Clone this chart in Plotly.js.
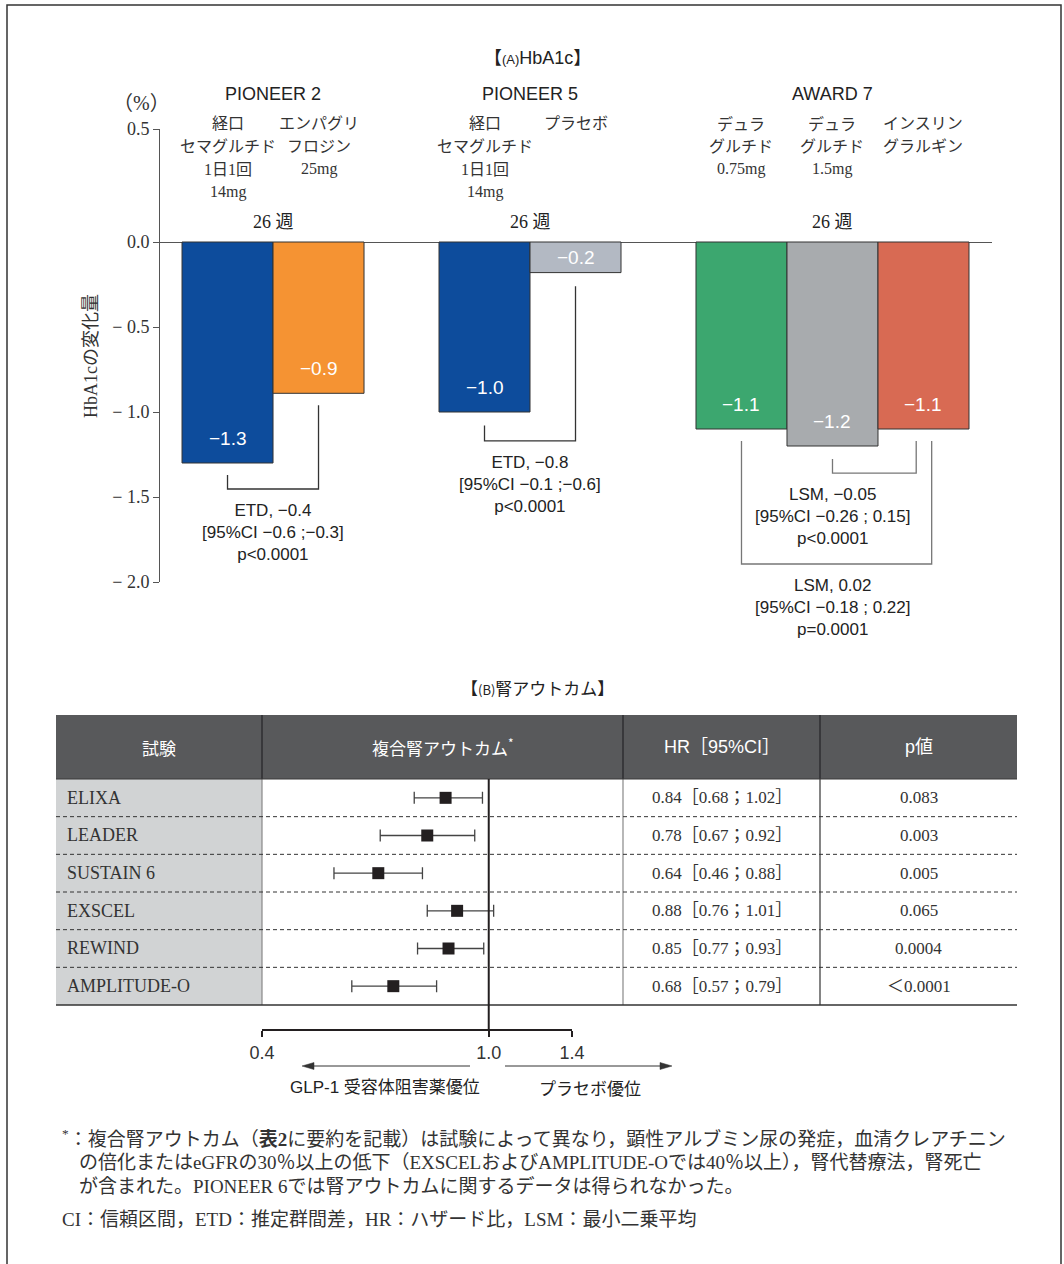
<!DOCTYPE html>
<html><head><meta charset="utf-8">
<script src="https://cdn.plot.ly/plotly-3.0.1.min.js"></script>
<style>html,body{margin:0;padding:0;background:#fff}</style>
</head><body><div id="chart" style="width:1064px;height:1264px"></div>
<script>
// ---------------- data ----------------
const trials = ["PIONEER 2", "PIONEER 5", "AWARD 7"];
const trialWeeks = ["26 週", "26 週", "26 週"];
const armTrial = [0, 0, 1, 1, 2, 2, 2];
const armLabels = [
  ["経口", "セマグルチド", "1日1回", "14mg"],
  ["エンパグリ", "フロジン", "25mg"],
  ["経口", "セマグルチド", "1日1回", "14mg"],
  ["プラセボ"],
  ["デュラ", "グルチド", "0.75mg"],
  ["デュラ", "グルチド", "1.5mg"],
  ["インスリン", "グラルギン"]
];
const hba1cChange = [-1.3, -0.89, -1.0, -0.18, -1.1, -1.2, -1.1];
const hba1cLabels = ["−1.3", "−0.9", "−1.0", "−0.2", "−1.1", "−1.2", "−1.1"];
const armColors = ["#0d4c9c", "#f59333", "#0d4c9c", "#b3b9c3", "#3ca76f", "#a8abae", "#d86a53"];
const yTickVals = [-2, -1.5, -1, -0.5, 0];
const yTickText = ["− 2.0", "− 1.5", "− 1.0", "− 0.5", "0.0"];
const comparisonStats = [
  ["ETD, −0.4", "[95%CI −0.6 ;−0.3]", "p&lt;0.0001"],
  ["ETD, −0.8", "[95%CI −0.1 ;−0.6]", "p&lt;0.0001"],
  ["LSM, −0.05", "[95%CI −0.26 ; 0.15]", "p&lt;0.0001"],
  ["LSM, 0.02", "[95%CI −0.18 ; 0.22]", "p=0.0001"]
];

const studies = ["ELIXA", "LEADER", "SUSTAIN 6", "EXSCEL", "REWIND", "AMPLITUDE-O"];
const hrValues = [0.84, 0.78, 0.64, 0.88, 0.85, 0.68];
const ciLowText = ["0.68", "0.67", "0.46", "0.76", "0.77", "0.57"];
const ciHighText = ["1.02", "0.92", "0.88", "1.01", "0.93", "0.79"];
// whisker ends as drawn in the figure
const whiskerLow = [0.74, 0.645, 0.535, 0.78, 0.75, 0.575];
const whiskerHigh = [0.975, 0.945, 0.765, 1.02, 0.98, 0.81];
const pValues = ["0.083", "0.003", "0.005", "0.065", "0.0004", "＜0.0001"];
const hrTicks = [0.4, 1.0, 1.4];
const hrTickText = ["0.4", "1.0", "1.4"];

const footnoteLines = [
  "<sup>*</sup>：複合腎アウトカム（<b>表2</b>に要約を記載）は試験によって異なり，顕性アルブミン尿の発症，血清クレアチニン",
  "の倍化またはeGFRの30％以上の低下（EXSCELおよびAMPLITUDE-Oでは40％以上），腎代替療法，腎死亡",
  "が含まれた。PIONEER 6では腎アウトカムに関するデータは得られなかった。",
  "CI：信頼区間，ETD：推定群間差，HR：ハザード比，LSM：最小二乗平均"
];

// ---------------- layout helpers ----------------
const W = 1064, H = 1264;
const px = v => v / W;
const py = v => 1 - v / H;
const SANS = "'Liberation Sans', Arial, 'Noto Sans CJK JP', sans-serif";
const SERIF = "'Liberation Serif', 'Times New Roman', 'Noto Sans CJK JP', serif";
const JSANS = "'Noto Sans CJK JP', 'Liberation Sans', sans-serif";
const TXT = "#333";

// top chart geometry
const plotTopPx = 129, plotBotPx = 582, zeroPx = 242, plotLeftPx = 160, plotRightPx = 992;
const pxPerUnitY = (plotBotPx - zeroPx) / 2.0;
const yTop = (zeroPx - plotTopPx) / pxPerUnitY;
const barUnitPx = 91;
const xMax = (plotRightPx - plotLeftPx) / barUnitPx;
const groupStart = 0.242, groupGap = 0.824;
const barX = [];
{
  let x = groupStart + 0.5;
  for (let i = 0; i < armTrial.length; i++) {
    if (i > 0 && armTrial[i] !== armTrial[i - 1]) x += groupGap;
    barX.push(x); x += 1;
  }
}
const groupCenter = trials.map((t, g) => {
  const xs = barX.filter((_, i) => armTrial[i] === g);
  return (xs[0] + xs[xs.length - 1]) / 2;
});

const traces = [];
traces.push({
  type: "bar", x: barX, y: hba1cChange, width: 1,
  marker: { color: armColors, line: { color: "#333", width: 1 } },
  hoverinfo: "skip", xaxis: "x", yaxis: "y"
});

traces.push({
  type: "scatter", mode: "markers", x: hrValues, y: studies.map((_, i) => i),
  xaxis: "x2", yaxis: "y2",
  marker: { symbol: "square", size: 12, color: "#231f20" },
  error_x: {
    type: "data", symmetric: false,
    array: whiskerHigh.map((h, i) => h - hrValues[i]),
    arrayminus: whiskerLow.map((l, i) => hrValues[i] - l),
    width: 6, thickness: 1.3, color: "#444"
  },
  hoverinfo: "skip", cliponaxis: false
});

const annotations = [];
const shapes = [];
function ann(o) {
  annotations.push(Object.assign({ showarrow: false, xref: "paper", yref: "paper", xanchor: "center", yanchor: "middle" }, o));
}

// titles
ann({ x: px(537), y: py(58), text: "【<span style='font-size:13px'>(A)</span>HbA1c】", font: { family: SANS, size: 18, color: "#222" } });
ann({ x: px(537), y: py(687), text: "【<span style='font-size:13px'>(B)</span>腎アウトカム】", font: { family: JSANS, size: 17, color: "#222" } });
ann({ x: px(141), y: py(103), text: "（%）", font: { family: SERIF, size: 20, color: TXT } });
ann({ x: px(91), y: py(356), text: "HbA1cの変化量", textangle: -90, font: { family: SERIF, size: 18, color: TXT } });

// trial names and weeks
trials.forEach((t, g) => {
  ann({ xref: "x", x: groupCenter[g], y: py(94), text: t, font: { family: SANS, size: 18, color: "#222" } });
  ann({ xref: "x", x: groupCenter[g], y: py(222), text: trialWeeks[g], font: { family: SERIF, size: 18, color: "#222" } });
});
// arm labels
armLabels.forEach((lines, i) => {
  lines.forEach((ln, k) => {
    ann({ xref: "x", x: barX[i], y: py(124 + k * 22.7), text: ln, font: { family: SERIF, size: 16, color: TXT } });
  });
});
// value labels inside bars
hba1cChange.forEach((v, i) => {
  const hpx = Math.abs(v) * pxPerUnitY;
  ann({ xref: "x", yref: "y", x: barX[i], y: v, yshift: Math.min(25, hpx / 2), text: hba1cLabels[i],
        font: { family: SANS, size: 19, color: "#fff" } });
});

// comparison brackets
const brackets = [
  { a: 0, b: 1, da: 0, db: 0, ga: 0.07, gb: 0.07, depth: 0.153, color: "#333", stat: 0, tx: "mid" },
  { a: 2, b: 3, da: 0, db: 0, ga: 0.08, gb: 0.08, depth: 0.17, color: "#333", stat: 1, tx: "mid" },
  { a: 5, b: 6, da: 0, db: -0.08, ga: 0.076, gb: 0.07, depth: 0.16, color: "#777", stat: 2, tx: 5 },
  { a: 4, b: 6, da: 0, db: 0.09, ga: 0.07, gb: 0.07, depth: 0.794, color: "#777", stat: 3, tx: 5 }
];
brackets.forEach(br => {
  const xa = barX[br.a] + br.da, xb = barX[br.b] + br.db;
  const ta = hba1cChange[br.a] - br.ga, tb = hba1cChange[br.b] - br.gb;
  const bottom = Math.min(hba1cChange[br.a], hba1cChange[br.b]) - br.depth;
  shapes.push({ type: "path", xref: "x", yref: "y",
    path: `M ${xa},${ta} L ${xa},${bottom} L ${xb},${bottom} L ${xb},${tb}`,
    line: { color: br.color, width: 1.3 } });
  const tx = br.tx === "mid" ? (xa + xb) / 2 : barX[br.tx];
  ann({ xref: "x", yref: "y", x: tx, y: bottom, yanchor: "top", yshift: -10,
        text: comparisonStats[br.stat].join("<br>"), font: { family: SANS, size: 17, color: "#222" } });
});

// ---------------- table ----------------
const tL = 56, tR = 1017, hTop = 715, hBot = 779, tBot = 1005;
const colX = [56, 262, 623, 820, 1017];
const rowH = (tBot - hBot) / studies.length;
shapes.push({ type: "rect", xref: "paper", yref: "paper", x0: px(tL), x1: px(tR), y0: py(hTop), y1: py(hBot),
  fillcolor: "#58595b", line: { width: 0 }, layer: "below" });
shapes.push({ type: "rect", xref: "paper", yref: "paper", x0: px(tL), x1: px(colX[1]), y0: py(hBot), y1: py(tBot),
  fillcolor: "#d1d3d4", line: { width: 0 }, layer: "below" });
[1, 2, 3].forEach(c => {
  shapes.push({ type: "line", xref: "paper", yref: "paper", x0: px(colX[c]), x1: px(colX[c]), y0: py(hTop), y1: py(hBot),
    line: { color: "#2e2e30", width: 1.5 } });
  shapes.push({ type: "line", xref: "paper", yref: "paper", x0: px(colX[c]), x1: px(colX[c]), y0: py(hBot), y1: py(tBot),
    line: { color: c === 3 ? "#333" : "#888", width: 1.2 } });
});
for (let i = 1; i < studies.length; i++) {
  const y = hBot + i * rowH;
  shapes.push({ type: "line", xref: "paper", yref: "paper", x0: px(tL), x1: px(tR), y0: py(y), y1: py(y),
    line: { color: "#333", width: 1, dash: "4px,3px" } });
}
shapes.push({ type: "line", xref: "paper", yref: "paper", x0: px(tL), x1: px(tR), y0: py(tBot), y1: py(tBot),
  line: { color: "#333", width: 1.5 } });
shapes.push({ type: "line", xref: "paper", yref: "paper", x0: px(tL), x1: px(tR), y0: py(hBot), y1: py(hBot),
  line: { color: "#3a3a3a", width: 1.2 } });
// HR = 1 reference line
shapes.push({ type: "line", xref: "x2", yref: "paper", x0: 1, x1: 1, y0: py(hBot), y1: py(1030),
  line: { color: "#231f20", width: 2 } });

// header texts
const hdrY = py((hTop + hBot) / 2);
ann({ x: px((colX[0] + colX[1]) / 2), y: hdrY, text: "試験", font: { family: JSANS, size: 17, color: "#fff" } });
ann({ x: px((colX[1] + colX[2]) / 2), y: hdrY, text: "複合腎アウトカム<sup>*</sup>", font: { family: JSANS, size: 17, color: "#fff" } });
ann({ x: px((colX[2] + colX[3]) / 2), y: hdrY, text: "HR［95%CI］", font: { family: SANS, size: 18, color: "#fff" } });
ann({ x: px((colX[3] + colX[4]) / 2), y: hdrY, text: "p値", font: { family: SANS, size: 18, color: "#fff" } });

studies.forEach((s, i) => {
  ann({ yref: "y2", x: px(65), y: i, xanchor: "left", text: s, font: { family: SERIF, size: 18, color: "#333" } });
  ann({ yref: "y2", x: px((colX[2] + colX[3]) / 2), y: i,
        text: hrValues[i].toFixed(2) + "［" + ciLowText[i] + "；" + ciHighText[i] + "］",
        font: { family: SERIF, size: 17, color: "#333" } });
  ann({ yref: "y2", x: px((colX[3] + colX[4]) / 2), y: i, text: pValues[i], font: { family: SERIF, size: 17, color: "#333" } });
});

// direction arrows (line + filled head as shapes)
function arrowShape(tailX, tipX, yPx) {
  const dir = tipX > tailX ? 1 : -1;
  const headLen = 12, headHalf = 3.5;
  const baseX = tipX - dir * headLen;
  shapes.push({ type: "line", xref: "paper", yref: "paper", x0: px(tailX), x1: px(baseX), y0: py(yPx), y1: py(yPx),
    line: { color: "#333", width: 1 } });
  shapes.push({ type: "path", xref: "paper", yref: "paper",
    path: `M ${px(tipX)},${py(yPx)} L ${px(baseX)},${py(yPx - headHalf)} L ${px(baseX)},${py(yPx + headHalf)} Z`,
    fillcolor: "#333", line: { color: "#333", width: 0.5 } });
}
arrowShape(470, 302, 1066);
arrowShape(505, 672, 1066);
ann({ x: px(385), y: py(1087), text: "GLP-1 受容体阻害薬優位", font: { family: SANS, size: 17, color: "#222" } });
ann({ x: px(590), y: py(1087), text: "プラセボ優位", font: { family: JSANS, size: 17, color: "#222" } });

// footnotes
const fnX = [60, 77, 77, 60], fnY = [1138, 1162, 1186, 1219];
footnoteLines.forEach((t, i) => {
  ann({ x: px(fnX[i]), y: py(fnY[i]), xanchor: "left", text: t, font: { family: SERIF, size: 19, color: "#333" } });
});

// outer frame
shapes.push({ type: "rect", xref: "paper", yref: "paper", x0: px(7), x1: px(1061), y0: -0.02, y1: py(5),
  line: { color: "#333", width: 1.5 }, fillcolor: "rgba(0,0,0,0)" });

const layout = {
  width: W, height: H, margin: { l: 0, r: 0, t: 0, b: 0 },
  paper_bgcolor: "#fff", plot_bgcolor: "rgba(0,0,0,0)", showlegend: false,
  xaxis: { domain: [px(plotLeftPx), px(plotRightPx)], range: [0, xMax], visible: false, fixedrange: true },
  yaxis: {
    domain: [py(plotBotPx), py(plotTopPx)], range: [-2, yTop], anchor: "x",
    showline: true, linecolor: "#555", linewidth: 1, mirror: false,
    ticks: "outside", ticklen: 6, tickcolor: "#555", tickwidth: 1,
    tickvals: yTickVals.concat([yTop]), ticktext: yTickText.concat(["0.5"]),
    tickfont: { family: SERIF, size: 18, color: "#333" },
    showgrid: false, zeroline: true, zerolinecolor: "#555", zerolinewidth: 1, fixedrange: true
  },
  xaxis2: {
    type: "log", domain: [px(262), px(572)], range: [Math.log10(0.4), Math.log10(1.4)],
    anchor: "free", position: py(1030),
    showline: true, linecolor: "#231f20", linewidth: 2,
    ticks: "outside", ticklen: 6, tickwidth: 2, tickcolor: "#231f20",
    tickvals: hrTicks, ticktext: hrTickText, tickfont: { family: SANS, size: 18, color: "#333" },
    showgrid: false, zeroline: false, fixedrange: true
  },
  yaxis2: { domain: [py(tBot), py(hBot)], range: [studies.length - 0.5, -0.5], anchor: "x2", visible: false, fixedrange: true },
  shapes, annotations, bargap: 0
};

Plotly.newPlot("chart", traces, layout, { displayModeBar: false, staticPlot: true });
</script></body></html>
